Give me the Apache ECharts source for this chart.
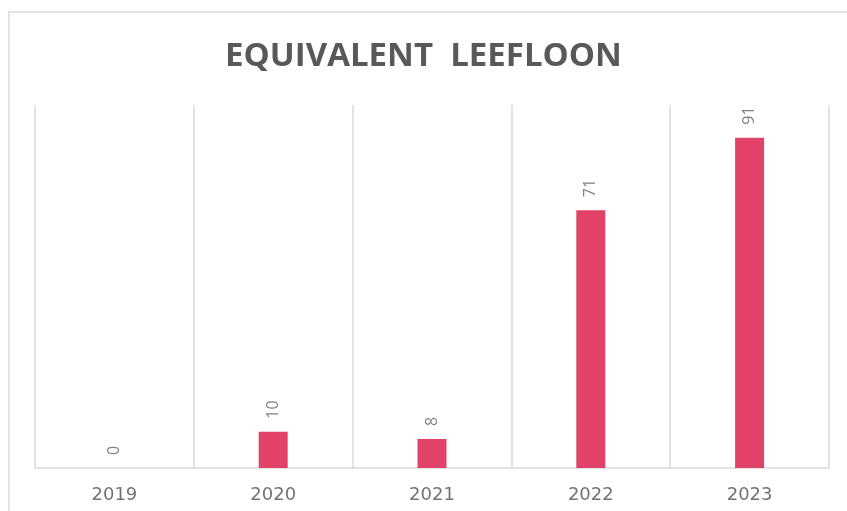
<!DOCTYPE html>
<html>
<head>
<meta charset="utf-8">
<script src="https://cdn.jsdelivr.net/npm/echarts@6/dist/echarts.min.js"></script>
<style>
  html, body { margin: 0; padding: 0; background: #fff; }
  #chart { width: 847px; height: 511px; }
</style>
</head>
<body>
<div id="chart"></div>
<script>
  // jaren en aantallen
  var years = ['2019', '2020', '2021', '2022', '2023'];
  var values = [0, 10, 8, 71, 91];
  var titleText = 'EQUIVALENT  LEEFLOON';

  var chart = echarts.init(document.getElementById('chart'));
  var option = {
    animation: false,
    backgroundColor: '#fff',
    title: {
      text: titleText,
      left: 'center',
      top: 35,
      textStyle: {
        fontFamily: 'Open Sans',
        fontWeight: 'bold',
        fontSize: 33,
        color: '#595959'
      }
    },
    graphic: [{
      type: 'rect',
      shape: { x: 9, y: 12, width: 900, height: 600 },
      style: { fill: 'none', stroke: '#d9d9d9', lineWidth: 1.5 },
      silent: true
    }],
    grid: { left: 35, right: 18, top: 105, bottom: 43 },
    xAxis: {
      type: 'category',
      data: years,
      axisLine: { lineStyle: { color: '#d9d9d9', width: 1.5 } },
      axisTick: { show: false },
      splitLine: { show: true, lineStyle: { color: '#d9d9d9', width: 1.5 } },
      axisLabel: {
        margin: 18,
        fontFamily: 'DejaVu Sans',
        fontSize: 18,
        color: '#737373'
      }
    },
    yAxis: {
      type: 'value',
      min: 0,
      max: 100,
      show: false,
      splitLine: { show: false }
    },
    series: [{
      type: 'bar',
      data: values,
      barWidth: 29,
      itemStyle: { color: '#e04268' },
      label: {
        show: true,
        position: 'top',
        rotate: 90,
        align: 'left',
        verticalAlign: 'middle',
        distance: 13,
        fontFamily: 'Open Sans',
        fontSize: 16,
        color: '#808080'
      }
    }]
  };
  chart.setOption(option);
</script>
</body>
</html>
